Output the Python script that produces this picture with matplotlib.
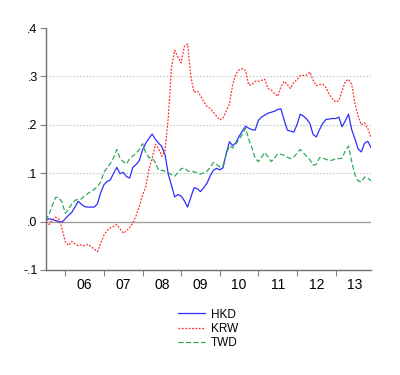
import numpy as np
import matplotlib
matplotlib.use('Agg')
import matplotlib.pyplot as plt

plt.rcParams['font.family'] = ['Liberation Sans', 'DejaVu Sans']

# Miesieczne dane od 2005-07 do 2013-12
start_year = 2005.5
year_labels = ['06', '07', '08', '09', '10', '11', '12', '13']

hkd = [0.003, 0.006, 0.004, 0.002, 0.000, -0.001, 0.006, 0.013, 0.019, 0.030,
       0.042, 0.036, 0.031, 0.030, 0.030, 0.030, 0.037, 0.060, 0.076, 0.083,
       0.086, 0.100, 0.112, 0.099, 0.102, 0.093, 0.090, 0.112, 0.118, 0.126,
       0.148, 0.162, 0.172, 0.181, 0.170, 0.162, 0.155, 0.138, 0.098, 0.075,
       0.051, 0.056, 0.053, 0.043, 0.030, 0.050, 0.070, 0.068, 0.062, 0.070,
       0.079, 0.094, 0.106, 0.110, 0.107, 0.111, 0.140, 0.165, 0.157, 0.163,
       0.176, 0.187, 0.197, 0.193, 0.190, 0.189, 0.209, 0.216, 0.220, 0.224,
       0.226, 0.228, 0.232, 0.233, 0.210, 0.189, 0.187, 0.185, 0.200, 0.222,
       0.218, 0.212, 0.203, 0.180, 0.175, 0.190, 0.203, 0.211, 0.212, 0.213,
       0.213, 0.216, 0.196, 0.208, 0.222, 0.190, 0.171, 0.150, 0.144, 0.162,
       0.166, 0.153]

krw = [0.000, -0.006, 0.004, 0.009, 0.005, -0.015, -0.042, -0.049, -0.041, -0.046,
       -0.050, -0.048, -0.050, -0.047, -0.052, -0.057, -0.062, -0.045, -0.028, -0.018,
       -0.013, -0.010, -0.006, -0.015, -0.024, -0.019, -0.012, -0.003, 0.012, 0.032,
       0.055, 0.072, 0.108, 0.131, 0.160, 0.151, 0.135, 0.147, 0.215, 0.318,
       0.354, 0.340, 0.328, 0.362, 0.367, 0.300, 0.267, 0.270, 0.260, 0.248,
       0.238, 0.234, 0.226, 0.218, 0.210, 0.214, 0.228, 0.243, 0.282, 0.305,
       0.314, 0.316, 0.312, 0.282, 0.283, 0.290, 0.290, 0.292, 0.294, 0.275,
       0.272, 0.265, 0.259, 0.278, 0.290, 0.283, 0.275, 0.288, 0.293, 0.302,
       0.302, 0.303, 0.309, 0.292, 0.281, 0.283, 0.284, 0.277, 0.263, 0.254,
       0.247, 0.250, 0.270, 0.290, 0.294, 0.284, 0.245, 0.218, 0.200, 0.204,
       0.192, 0.174]

twd = [0.002, 0.016, 0.034, 0.050, 0.050, 0.040, 0.017, 0.026, 0.036, 0.044,
       0.046, 0.047, 0.053, 0.058, 0.062, 0.067, 0.072, 0.082, 0.102, 0.111,
       0.120, 0.132, 0.149, 0.131, 0.124, 0.119, 0.130, 0.136, 0.141, 0.149,
       0.161, 0.143, 0.132, 0.131, 0.122, 0.106, 0.106, 0.104, 0.101, 0.097,
       0.094, 0.101, 0.109, 0.111, 0.105, 0.103, 0.103, 0.101, 0.098, 0.101,
       0.104, 0.112, 0.122, 0.118, 0.113, 0.116, 0.138, 0.157, 0.152, 0.160,
       0.170, 0.180, 0.193, 0.170, 0.152, 0.131, 0.124, 0.133, 0.143, 0.134,
       0.124, 0.131, 0.140, 0.139, 0.137, 0.133, 0.130, 0.134, 0.141, 0.149,
       0.142, 0.135, 0.128, 0.117, 0.118, 0.132, 0.131, 0.129, 0.126, 0.127,
       0.130, 0.130, 0.131, 0.146, 0.156, 0.124, 0.097, 0.084, 0.082, 0.092,
       0.090, 0.084]

t = start_year + np.arange(len(hkd)) / 12.0

fig = plt.figure(figsize=(4, 3.75), dpi=100)
ax = fig.add_axes([0.115, 0.28, 0.8125, 0.6453])

# Siatka i linia zera
for yv in [0.1, 0.2, 0.3]:
    ax.axhline(yv, color='#c8c8c8', lw=0.8, ls=(0, (1.5, 1.5)), zorder=0)
ax.axhline(0.0, color='#a0a0a0', lw=1.0, zorder=0)

ax.plot(t, hkd, color='#2e2eff', lw=0.9, label='HKD')
ax.plot(t, krw, color='#ff3030', lw=0.9, ls=(0, (1.5, 1.2)), label='KRW')
ax.plot(t, twd, color='#2eaa5a', lw=0.9, ls=(0, (4, 2)), label='TWD')

ax.set_xlim(t[0], t[-1])
ax.set_ylim(-0.1, 0.4)

ax.set_yticks([-0.1, 0.0, 0.1, 0.2, 0.3, 0.4])
ax.set_yticklabels(['-.1', '.0', '.1', '.2', '.3', '.4'])

years = np.arange(2006, 2014)
ax.set_xticks(years)
ax.set_xticklabels([])
ax.set_xticks(years + 0.5, minor=True)
ax.set_xticklabels(year_labels, minor=True)
ax.tick_params(axis='x', which='minor', length=0, pad=6)
ax.tick_params(axis='x', which='major', length=4, color='#808080')
ax.tick_params(axis='y', length=4, color='#808080', pad=2)
ax.tick_params(labelsize=9)

for s in ['top', 'right']:
    ax.spines[s].set_visible(False)
for s in ['left', 'bottom']:
    ax.spines[s].set_color('#707070')
    ax.spines[s].set_linewidth(1.0)

fig.legend(loc='center', bbox_to_anchor=(0.52, 0.123), frameon=False,
           fontsize=8.5, handlelength=2.3, handletextpad=0.5, labelspacing=0.2)

plt.savefig('out.png', dpi=100)
